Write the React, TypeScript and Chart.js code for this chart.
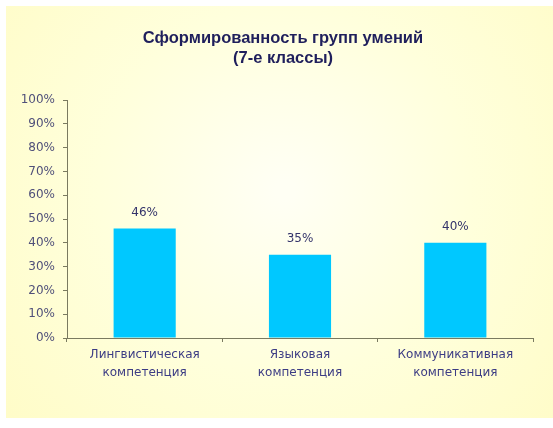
import React, { useEffect, useRef } from "react";
import { Chart, registerables } from "chart.js";

Chart.register(...registerables);

const titleLines = ["Сформированность групп умений", "(7-е классы)"];
const categories: string[][] = [
  ["Лингвистическая", "компетенция"],
  ["Языковая", "компетенция"],
  ["Коммуникативная", "компетенция"],
];
const values = [46, 35, 40];
const yTicks = [0, 10, 20, 30, 40, 50, 60, 70, 80, 90, 100];

const FONT = "'Liberation Sans', Arial, sans-serif";
const WIDE = "'DejaVu Sans', Verdana, sans-serif";

const bgPlugin = {
  id: "bgPlugin",
  beforeDraw(chart: any) {
    const { ctx, width, height } = chart;
    ctx.save();
    ctx.fillStyle = "#ffffff";
    ctx.fillRect(0, 0, width, height);
    const g = ctx.createRadialGradient(285, 190, 10, 285, 190, 360);
    g.addColorStop(0, "#fffff4");
    g.addColorStop(0.5, "#ffffdc");
    g.addColorStop(1, "#fffcc8");
    ctx.fillStyle = g;
    ctx.fillRect(6, 6, width - 6, 418 - 6);
    ctx.restore();
  },
};

const titlePlugin = {
  id: "titlePlugin",
  afterDraw(chart: any) {
    const { ctx } = chart;
    ctx.save();
    ctx.fillStyle = "#1f1f5c";
    ctx.font = `bold 16.5px ${FONT}`;
    ctx.textAlign = "center";
    ctx.textBaseline = "middle";
    ctx.fillText(titleLines[0], 283, 38);
    ctx.fillText(titleLines[1], 283, 58);
    ctx.restore();
  },
};

const labelPlugin = {
  id: "labelPlugin",
  afterDatasetsDraw(chart: any) {
    const { ctx } = chart;
    const meta = chart.getDatasetMeta(0);
    ctx.save();
    ctx.fillStyle = "#33336a";
    ctx.font = `12px ${WIDE}`;
    ctx.textAlign = "center";
    ctx.textBaseline = "bottom";
    meta.data.forEach((bar: any, i: number) => {
      ctx.fillText(values[i] + "%", bar.x, bar.y - 10);
    });
    ctx.restore();
  },
};

export default function App() {
  const ref = useRef<HTMLCanvasElement | null>(null);
  useEffect(() => {
    if (!ref.current) return;
    const chart = new Chart(ref.current, {
      type: "bar",
      data: {
        labels: categories,
        datasets: [
          {
            data: values,
            backgroundColor: "#00c8ff",
            borderWidth: 0,
            barPercentage: 0.4,
            categoryPercentage: 1,
          },
        ],
      },
      options: {
        animation: false,
        responsive: false,
        devicePixelRatio: 1,
        layout: { padding: { left: 0, right: 20, top: 100, bottom: 0 } },
        plugins: {
          legend: { display: false },
          title: { display: false },
          tooltip: { enabled: false },
        },
        scales: {
          x: {
            afterFit(scale: any) {
              scale.height = 90;
            },
            grid: {
              offset: true,
              drawOnChartArea: false,
              drawTicks: true,
              tickLength: 4,
              color: "#7a7a60",
            },
            border: { display: true, color: "#7a7a60", width: 1 },
            ticks: {
              color: "#3c3c84",
              font: { family: WIDE, size: 12, lineHeight: 1.5 },
              padding: 4,
              maxRotation: 0,
              autoSkip: false,
            },
          },
          y: {
            min: 0,
            max: 100,
            afterFit(scale: any) {
              scale.width = 67;
            },
            afterBuildTicks(scale: any) {
              scale.ticks = yTicks.map((v) => ({ value: v }));
            },
            grid: {
              drawOnChartArea: false,
              drawTicks: true,
              tickLength: 4,
              color: "#7a7a60",
            },
            border: { display: true, color: "#7a7a60", width: 1 },
            ticks: {
              color: "#50507a",
              font: { family: WIDE, size: 12 },
              padding: 8,
              callback: (v: any) => v + "%",
            },
          },
        },
      },
      plugins: [bgPlugin, titlePlugin, labelPlugin],
    });
    return () => chart.destroy();
  }, []);
  return (
    <div style={{ position: "fixed", left: 0, top: 0, width: 553, height: 428 }}>
      <canvas ref={ref} width={553} height={428} style={{ display: "block" }} />
    </div>
  );
}
